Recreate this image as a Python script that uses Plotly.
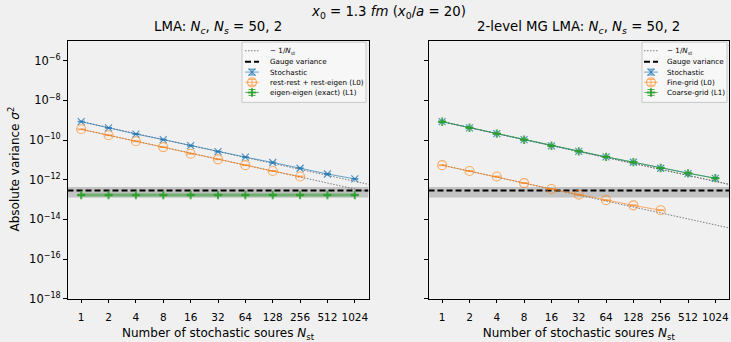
import plotly.graph_objects as go

# ---------------- data ----------------
n_st = [1, 2, 4, 8, 16, 32, 64, 128, 256, 512, 1024]
n_st_tick_labels = ["1", "2", "4", "8", "16", "32", "64", "128", "256", "512", "1024"]

# left panel: LMA
lma_stochastic = [8.5e-10, 4.1e-10, 2.0e-10, 1.05e-10, 5.2e-11, 2.6e-11, 1.38e-11, 7.4e-12, 3.8e-12, 1.95e-12, 1.1e-12]
lma_stochastic_err = [4e-11, 2e-11, 1e-11, 5e-12, 2.5e-12, 1.3e-12, 7e-13, 3.7e-13, 1.9e-13, 1e-13, 5.5e-14]
lma_rest = [3.5e-10, 1.74e-10, 8.7e-11, 4.4e-11, 2.04e-11, 1.07e-11, 5.4e-12, 2.75e-12, 1.45e-12]
lma_rest_err = [1.5e-11, 8e-12, 4e-12, 2e-12, 1e-12, 5e-13, 2.5e-13, 1.3e-13, 7e-14]
lma_eigen = [1.7e-13] * 11
lma_eigen_err = [1.5e-14] * 11

# right panel: 2-level MG LMA
mg_stochastic = [8.5e-10, 4.1e-10, 2.1e-10, 1.05e-10, 5.1e-11, 2.7e-11, 1.41e-11, 7.6e-12, 3.8e-12, 2.04e-12, 1.17e-12]
mg_stochastic_err = [4e-11, 2e-11, 1e-11, 5e-12, 2.5e-12, 1.3e-12, 7e-13, 3.7e-13, 1.9e-13, 1e-13, 5.5e-14]
mg_fine = [5.4e-12, 2.75e-12, 1.45e-12, 6.8e-13, 3.4e-13, 1.78e-13, 9.3e-14, 5.1e-14, 2.9e-14]
mg_fine_err = [2.5e-13, 1.3e-13, 7e-14, 3.3e-14, 1.7e-14, 9e-15, 4.5e-15, 2.5e-15, 1.4e-15]
mg_coarse = [8.4e-10, 4.2e-10, 2.1e-10, 1.04e-10, 5.2e-11, 2.7e-11, 1.42e-11, 7.7e-12, 3.9e-12, 2.1e-12, 1.2e-12]
mg_coarse_err = [4e-11, 2e-11, 1e-11, 5e-12, 2.5e-12, 1.3e-12, 7e-13, 3.7e-13, 1.9e-13, 1e-13, 5.5e-14]

gauge_variance = 2.9e-13
gauge_band = [1.26e-13, 4.3e-13]

y_tick_vals = [1e-6, 1e-8, 1e-10, 1e-12, 1e-14, 1e-16, 1e-18]
y_tick_text = ["10<sup>−6</sup>", "10<sup>−8</sup>", "10<sup>−10</sup>", "10<sup>−12</sup>",
               "10<sup>−14</sup>", "10<sup>−16</sup>", "10<sup>−18</sup>"]

legend_labels_lma = ["− 1/<i>N</i><sub>st</sub>", "Gauge variance", "Stochastic",
                     "rest-rest + rest-eigen (L0)", "eigen-eigen (exact) (L1)"]
legend_labels_mg = ["− 1/<i>N</i><sub>st</sub>", "Gauge variance", "Stochastic",
                    "Fine-grid (L0)", "Coarse-grid (L1)"]

# ---------------- style ----------------
FONT = "DejaVu Sans"
BG = "#f0f0f0"
W, H = 731, 342
BLUE_L = "rgba(31,119,180,0.65)"
BLUE_M = "rgba(31,119,180,0.75)"
ORANGE_L = "rgba(255,127,14,0.6)"
GREEN_L = "rgba(44,160,44,0.7)"
GREEN_M = "rgba(44,160,44,0.85)"
REF_LINE = dict(color="rgba(110,110,110,0.9)", width=1, dash="1.5px,1.5px")
GAUGE_LINE = dict(color="black", width=2, dash="6px,3px")

x_lo = 2 ** -0.5
x_hi = 2 ** 10.5
ref_x = n_st + [x_hi * 1.2]

fig = go.Figure()


def add_panel(xa, ya, stoch, stoch_err, l0, l0_err, l1, l1_err, left):
    fig.add_trace(go.Scatter(x=[x_lo, x_hi, x_hi, x_lo, x_lo],
                             y=[gauge_band[0], gauge_band[0], gauge_band[1], gauge_band[1], gauge_band[0]],
                             fill="toself", fillcolor="rgba(128,128,128,0.4)", line=dict(width=0),
                             mode="lines", hoverinfo="skip", xaxis=xa, yaxis=ya))
    refs = [stoch, l0] if left else [stoch, l0, l1]
    for s in refs:
        fig.add_trace(go.Scatter(x=ref_x, y=[s[0] / n for n in ref_x], mode="lines",
                                 line=REF_LINE, xaxis=xa, yaxis=ya))
    fig.add_trace(go.Scatter(x=[x_lo, x_hi], y=[gauge_variance, gauge_variance], mode="lines",
                             line=GAUGE_LINE, xaxis=xa, yaxis=ya))
    fig.add_trace(go.Scatter(x=n_st[:len(stoch)], y=stoch, mode="lines+markers",
                             line=dict(color=BLUE_L, width=1),
                             marker=dict(symbol="x-thin", size=7, line=dict(color=BLUE_M, width=1.2)),
                             error_y=dict(type="data", array=stoch_err, color=BLUE_M, thickness=1, width=3.5),
                             xaxis=xa, yaxis=ya))
    fig.add_trace(go.Scatter(x=n_st[:len(l0)], y=l0, mode="lines+markers",
                             line=dict(color=ORANGE_L, width=1),
                             marker=dict(symbol="circle-open", size=9, color=ORANGE_L, line=dict(width=1.2)),
                             error_y=dict(type="data", array=l0_err, color=ORANGE_L, thickness=1, width=3.5),
                             xaxis=xa, yaxis=ya))
    if left:
        fig.add_trace(go.Scatter(x=n_st[:len(l1)], y=l1, mode="lines",
                                 line=dict(color="rgba(44,160,44,0.28)", width=4.5),
                                 hoverinfo="skip", xaxis=xa, yaxis=ya))
    fig.add_trace(go.Scatter(x=n_st[:len(l1)], y=l1, mode="lines+markers",
                             line=dict(color=GREEN_L, width=1),
                             marker=dict(symbol="cross-thin", size=6, line=dict(color=GREEN_M, width=2)),
                             error_y=dict(type="data", array=l1_err, color=GREEN_M, thickness=1, width=3.5),
                             xaxis=xa, yaxis=ya))


add_panel("x", "y", lma_stochastic, lma_stochastic_err, lma_rest, lma_rest_err, lma_eigen, lma_eigen_err, True)
add_panel("x2", "y2", mg_stochastic, mg_stochastic_err, mg_fine, mg_fine_err, mg_coarse, mg_coarse_err, False)


# ---------------- compact legends drawn in a pixel overlay (x3/y3) ----------------
def add_legend(box_x0, box_x1, glyph_x0, text_x0, labels):
    box_y0, box_y1 = 43, 104.5
    rows = [51.8, 63.0, 73.6, 84.0, 94.4]
    gx = [glyph_x0, glyph_x0 + 14]
    gc = glyph_x0 + 7
    o = dict(xaxis="x3", yaxis="y3", hoverinfo="skip")
    fig.add_trace(go.Scatter(x=[box_x0, box_x1, box_x1, box_x0, box_x0],
                             y=[box_y0, box_y0, box_y1, box_y1, box_y0], mode="lines", fill="toself",
                             fillcolor="rgba(255,255,255,0.45)", line=dict(color="#c8c8c8", width=1), **o))
    fig.add_trace(go.Scatter(x=gx, y=[rows[0]] * 2, mode="lines", line=REF_LINE, **o))
    fig.add_trace(go.Scatter(x=gx, y=[rows[1]] * 2, mode="lines", line=GAUGE_LINE, **o))
    fig.add_trace(go.Scatter(x=gx, y=[rows[2]] * 2, mode="lines", line=dict(color=BLUE_L, width=1), **o))
    fig.add_trace(go.Scatter(x=[gc], y=[rows[2]], mode="markers",
                             marker=dict(symbol="x-thin", size=7, line=dict(color=BLUE_M, width=1.2)),
                             error_y=dict(type="data", array=[3], color=BLUE_M, thickness=1, width=3.5), **o))
    fig.add_trace(go.Scatter(x=gx, y=[rows[3]] * 2, mode="lines", line=dict(color=ORANGE_L, width=1), **o))
    fig.add_trace(go.Scatter(x=[gc], y=[rows[3]], mode="markers",
                             marker=dict(symbol="circle-open", size=9, color=ORANGE_L, line=dict(width=1.2)),
                             error_y=dict(type="data", array=[3], color=ORANGE_L, thickness=1, width=3.5), **o))
    fig.add_trace(go.Scatter(x=gx, y=[rows[4]] * 2, mode="lines", line=dict(color=GREEN_L, width=1), **o))
    fig.add_trace(go.Scatter(x=[gc], y=[rows[4]], mode="markers",
                             marker=dict(symbol="cross-thin", size=6, line=dict(color=GREEN_M, width=2)),
                             error_y=dict(type="data", array=[3], color=GREEN_M, thickness=1, width=3.5), **o))
    anns = []
    for r, lab in zip(rows, labels):
        anns.append(dict(text=lab, x=text_x0 / W, y=(H - r) / H, xref="paper", yref="paper",
                         xanchor="left", yanchor="middle", showarrow=False,
                         font=dict(family=FONT, size=7.2, color="black")))
    return anns


legend_anns = (add_legend(242, 366, 245, 268, legend_labels_lma)
               + add_legend(642, 727, 644, 665, legend_labels_mg))

ydom = [37 / H, (H - 41.7) / H]
xd1 = [67.5 / W, 368.5 / W]
xd2 = [428.5 / W, 729.0 / W]

xaxis_common = dict(type="log", range=[-0.5 * 0.30103, 10.5 * 0.30103], tickvals=n_st, ticktext=n_st_tick_labels,
                    ticks="outside", ticklen=3.5, tickcolor="black", showgrid=False, zeroline=False,
                    showline=True, linecolor="black", linewidth=1, mirror=True, ticklabelstandoff=5,
                    tickfont=dict(family=FONT, size=10.5, color="black"),
                    title=dict(text="Number of stochastic soures <i>N</i><sub>st</sub>",
                               font=dict(family=FONT, size=12, color="black"), standoff=9))
yaxis_common = dict(type="log", range=[-18, -5], tickvals=y_tick_vals, ticktext=y_tick_text,
                    ticks="outside", ticklen=3.5, tickcolor="black", showgrid=False, zeroline=False,
                    showline=True, linecolor="black", linewidth=1, mirror=True,
                    tickfont=dict(family=FONT, size=11.5, color="black"))

title_anns = [
    dict(text="<i>x</i><sub>0</sub> = 1.3 <i>fm</i> (<i>x</i><sub>0</sub>/<i>a</i> = 20)", x=388 / W, y=(H - 13) / H,
         xref="paper", yref="paper", xanchor="center", yanchor="middle", showarrow=False,
         font=dict(family=FONT, size=13.3, color="black")),
    dict(text="LMA: <i>N</i><sub><i>c</i></sub>, <i>N</i><sub><i>s</i></sub> = 50, 2",
         x=(67.5 + 368.5) / 2 / W, y=(H - 28) / H, xref="paper", yref="paper",
         xanchor="center", yanchor="middle", showarrow=False, font=dict(family=FONT, size=13.3, color="black")),
    dict(text="2-level MG LMA: <i>N</i><sub><i>c</i></sub>, <i>N</i><sub><i>s</i></sub> = 50, 2",
         x=(428.5 + 729) / 2 / W, y=(H - 28) / H, xref="paper", yref="paper",
         xanchor="center", yanchor="middle", showarrow=False, font=dict(family=FONT, size=13.3, color="black")),
    dict(text="Absolute variance <i>σ</i><sup>2</sup>", textangle=-90,
         x=14 / W, y=(H - 173) / H, xref="paper", yref="paper",
         xanchor="center", yanchor="middle", showarrow=False, font=dict(family=FONT, size=12, color="black")),
]

fig.update_layout(
    width=W, height=H, margin=dict(l=0, r=0, t=0, b=0),
    paper_bgcolor=BG, plot_bgcolor="rgba(0,0,0,0)",
    font=dict(family=FONT, color="black"),
    showlegend=False,
    xaxis=dict(domain=xd1, anchor="y", **xaxis_common),
    yaxis=dict(domain=ydom, anchor="x", **yaxis_common),
    xaxis2=dict(domain=xd2, anchor="y2", **xaxis_common),
    yaxis2=dict(domain=ydom, anchor="x2", showticklabels=False, **yaxis_common),
    xaxis3=dict(domain=[0, 1], anchor="y3", range=[0, W], visible=False, fixedrange=True),
    yaxis3=dict(domain=[0, 1], anchor="x3", range=[H, 0], visible=False, fixedrange=True),
    annotations=title_anns + legend_anns,
)

fig.write_html("out.html")
